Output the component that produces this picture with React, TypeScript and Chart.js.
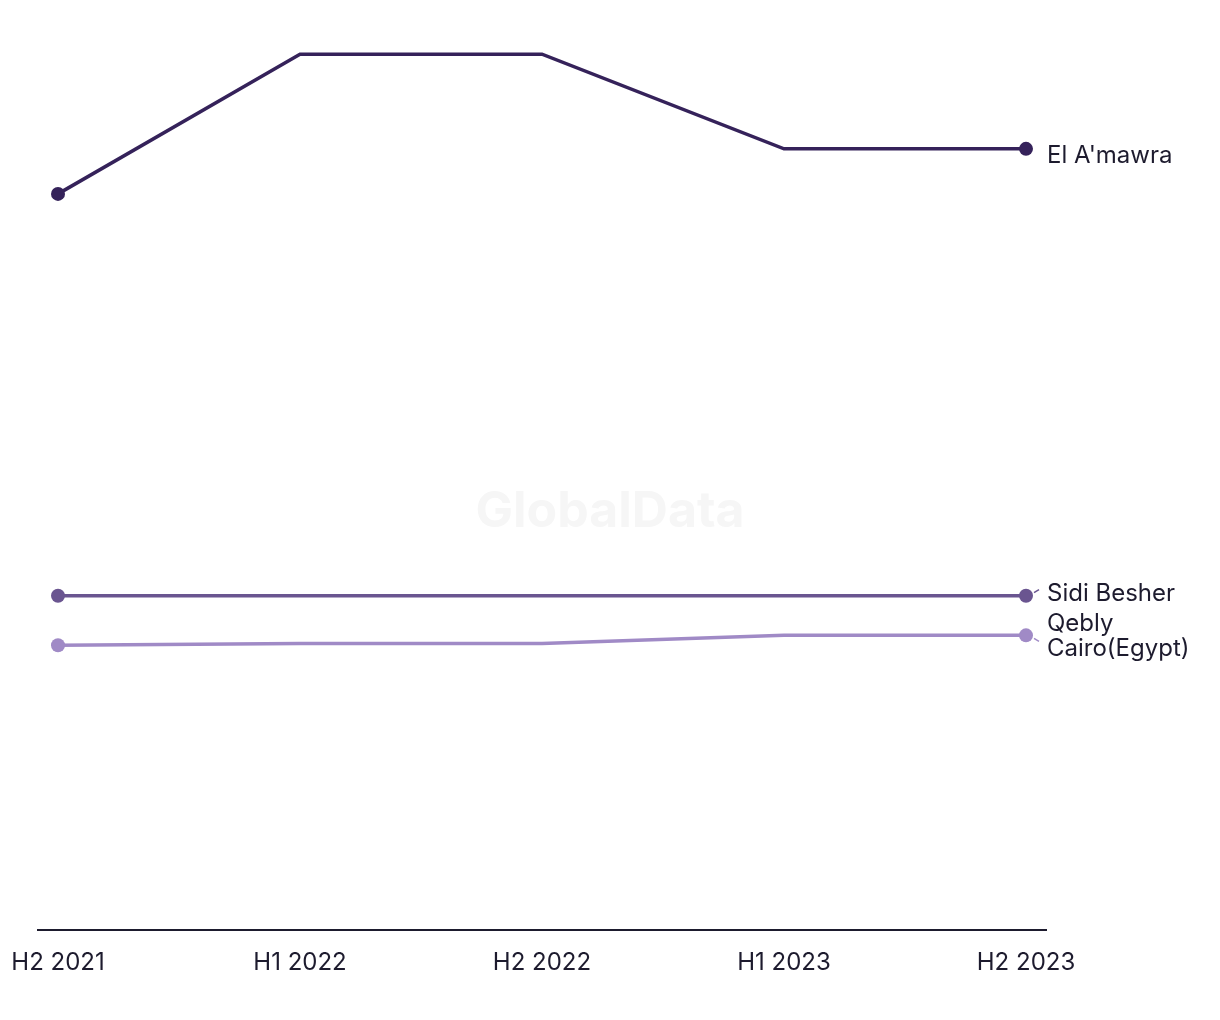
import React, { useEffect, useRef } from "react";
import { Chart, registerables } from "chart.js";

Chart.register(...registerables);

const categories = ["H2 2021", "H1 2022", "H2 2022", "H1 2023", "H2 2023"];
const seriesNames = ["El A'mawra", "Sidi Besher", "Qebly Cairo(Egypt)"];
const elAmawra = [81.7, 97.2, 97.2, 86.7, 86.7];
const sidiBesher = [37.1, 37.1, 37.1, 37.1, 37.1];
const qeblyCairo = [31.6, 31.8, 31.8, 32.7, 32.7];
const seriesColors = ["#35225a", "#6a5590", "#a08ac6"];
const endLabels = [["El A'mawra"], ["Sidi Besher"], ["Qebly", "Cairo(Egypt)"]];

const FONT = "Inter, 'Noto Sans', sans-serif";
const TEXT = "#1d1b2e";

export default function App() {
  const ref = useRef<HTMLCanvasElement | null>(null);

  useEffect(() => {
    if (!ref.current) return;
    const all = [elAmawra, sidiBesher, qeblyCairo];
    const ext = 20 / 242;

    const watermark = {
      id: "watermark",
      beforeDatasetsDraw(chart: any) {
        const { ctx } = chart;
        ctx.save();
        ctx.font = `bold 50px ${FONT}`;
        ctx.fillStyle = "#f6f6f6";
        ctx.textAlign = "center";
        ctx.textBaseline = "middle";
        ctx.fillText("GlobalData", 610, 512);
        ctx.restore();
      },
    };

    const textPlugin = {
      id: "texts",
      afterDatasetsDraw(chart: any) {
        const { ctx, chartArea } = chart;
        const xs = chart.scales.x;
        ctx.save();
        ctx.font = `24px ${FONT}`;
        ctx.fillStyle = TEXT;
        ctx.textBaseline = "middle";
        ctx.textAlign = "center";
        categories.forEach((c, i) => {
          ctx.fillText(c, xs.getPixelForValue(i), chartArea.bottom + 33);
        });
        ctx.textAlign = "left";
        chart.data.datasets.forEach((ds: any, i: number) => {
          const meta = chart.getDatasetMeta(i);
          const pt = meta.data[meta.data.length - 1];
          const lines = endLabels[i];
          let cy = pt.y;
          if (i === 0) cy = pt.y + 7;
          if (i === 1) cy = pt.y - 2;
          if (i === 2) cy = pt.y + 1;
          const lh = 25;
          const startY = cy - ((lines.length - 1) * lh) / 2;
          lines.forEach((t, k) => ctx.fillText(t, pt.x + 21, startY + k * lh));
          if (i > 0) {
            ctx.strokeStyle = ds.borderColor;
            ctx.lineWidth = 1.5;
            ctx.beginPath();
            const dir = i === 1 ? -1 : 1;
            ctx.moveTo(pt.x + 8, pt.y + dir * 3);
            ctx.lineTo(pt.x + 13, pt.y + dir * 6);
            ctx.stroke();
          }
        });
        ctx.restore();
      },
    };

    const chart = new Chart(ref.current, {
      type: "line",
      data: {
        datasets: all.map((vals, i) => ({
          label: seriesNames[i],
          data: vals.map((v, j) => ({ x: j, y: v })),
          borderColor: seriesColors[i],
          backgroundColor: seriesColors[i],
          borderWidth: 3.5,
          pointRadius: vals.map((_, j) => (j === 0 || j === vals.length - 1 ? 7 : 0)),
          pointHoverRadius: 0,
          pointBorderWidth: 0,
          tension: 0,
        })),
      },
      options: {
        animation: false,
        responsive: true,
        maintainAspectRatio: false,
        layout: { padding: { left: 38, right: 174, top: 29, bottom: 90 } },
        plugins: { legend: { display: false }, tooltip: { enabled: false } },
        scales: {
          x: {
            type: "linear",
            min: -ext,
            max: 4 + ext,
            grid: { display: false, drawTicks: false },
            border: { display: true, color: "#1d1b2e", width: 2 },
            ticks: { display: false },
          },
          y: {
            display: false,
            min: 0,
            max: 100,
          },
        },
      },
      plugins: [watermark, textPlugin],
    });
    return () => chart.destroy();
  }, []);

  return (
    <div style={{ position: "fixed", left: 0, top: 0, width: 1220, height: 1020, background: "#fff" }}>
      <canvas ref={ref} />
    </div>
  );
}
